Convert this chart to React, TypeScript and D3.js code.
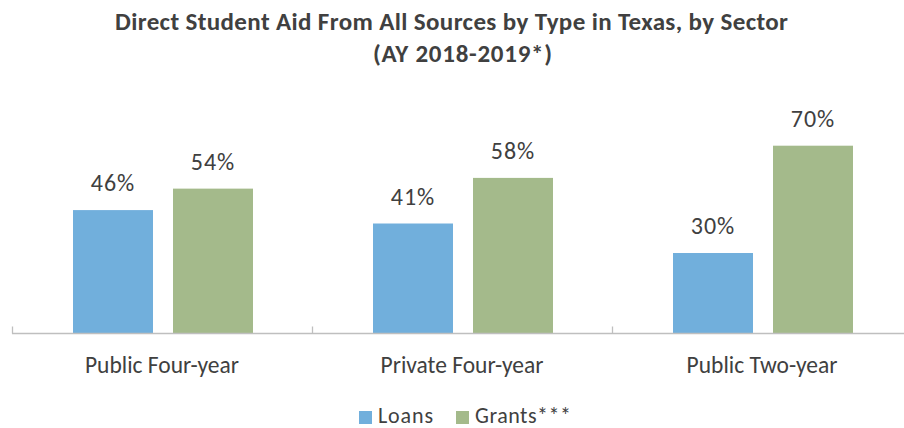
import React from "react";
import * as d3 from "d3";

const categories = ["Public Four-year", "Private Four-year", "Public Two-year"];
const seriesNames = ["Loans", "Grants***"];
const loans = [46, 41, 30];
const grants = [54, 58, 70];
const titleLines = [
  "Direct Student Aid From All Sources by Type in Texas, by Sector",
  "(AY 2018-2019*)",
];

const W = 904;
const H = 428;
const colors = ["#71AFDC", "#A4BA8B"];
const FONT = "Carlito, Calibri, Lato, sans-serif";
const TEXT = "#404040";

export default function App() {
  const baseline = 333.5;
  const x0 = d3.scaleBand<string>().domain(categories).range([12, 912]).paddingInner(0).paddingOuter(0);
  const x1 = d3.scaleBand<string>().domain(seriesNames).range([61, 241]).paddingInner(0.2).paddingOuter(0);
  const y = d3.scaleLinear().domain([0, 70]).range([baseline, 145.7]);
  const series = [loans, grants];
  const ticks = [...categories.map((c) => x0(c) as number), 912];

  return (
    <div style={{ position: "absolute", left: 0, top: 0 }}>
      <svg width={W} height={H} style={{ display: "block", background: "#fff" }} fontFamily={FONT}>
        <text x={451.5} y={30} textAnchor="middle" fontSize={25} fontWeight="bold" fill={TEXT} textLength={673} lengthAdjust="spacing">
          {titleLines[0]}
        </text>
        <text x={462.5} y={62} textAnchor="middle" fontSize={25} fontWeight="bold" fill={TEXT} textLength={179} lengthAdjust="spacing">
          {titleLines[1]}
        </text>
        {categories.map((c, ci) => (
          <g key={c} transform={`translate(${x0(c)},0)`}>
            {seriesNames.map((s, si) => {
              const v = series[si][ci];
              const bx = x1(s) as number;
              return (
                <g key={s}>
                  <rect x={bx} y={y(v)} width={x1.bandwidth()} height={baseline - y(v)} fill={colors[si]} />
                  <text x={bx + x1.bandwidth() / 2} y={y(v) - 19} textAnchor="middle" fontSize={24} letterSpacing={1} fill={TEXT}>
                    {v}%
                  </text>
                </g>
              );
            })}
            <text x={x0.bandwidth() / 2} y={373} textAnchor="middle" fontSize={23.5} fill={TEXT}>
              {c}
            </text>
          </g>
        ))}
        <line x1={12} x2={912} y1={baseline} y2={baseline} stroke="#BFBFBF" strokeWidth={1.3} />
        {ticks.map((t, i) => (
          <line key={i} x1={t + 0.5} x2={t + 0.5} y1={baseline} y2={baseline - 7} stroke="#BFBFBF" strokeWidth={1.3} />
        ))}
        <g>
          <rect x={359} y={411} width={13} height={13} fill={colors[0]} />
          <text x={378} y={423} fontSize={22} fill={TEXT} textLength={55} lengthAdjust="spacing">{seriesNames[0]}</text>
          <rect x={456} y={411} width={13} height={13} fill={colors[1]} />
          <text x={475} y={423} fontSize={22} fill={TEXT} textLength={96} lengthAdjust="spacing">{seriesNames[1]}</text>
        </g>
      </svg>
    </div>
  );
}
